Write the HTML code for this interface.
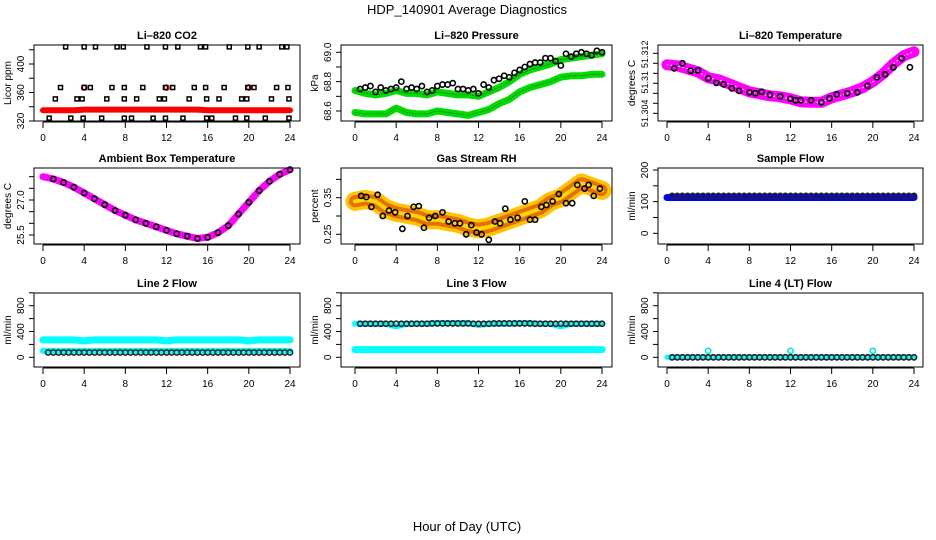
<!DOCTYPE html>
<html><head><meta charset="utf-8"><style>
html,body{margin:0;padding:0;background:#fff;}
svg{display:block;font-family:"Liberation Sans",sans-serif;}
</style></head><body>
<svg id="chart" width="936" height="540" viewBox="0 0 936 540">
<text x="467" y="14" font-size="13" text-anchor="middle">HDP_140901  Average Diagnostics</text>
<text x="467" y="531" font-size="13" text-anchor="middle">Hour of Day (UTC)</text>
</svg>
<script>
const xTickLabels=[0,4,8,12,16,20,24];
const hours=[0,1,2,3,4,5,6,7,8,9,10,11,12,13,14,15,16,17,18,19,20,21,22,23,24];
const halfHours=[0.5,1,1.5,2,2.5,3,3.5,4,4.5,5,5.5,6,6.5,7,7.5,8,8.5,9,9.5,10,10.5,11,11.5,12,12.5,13,13.5,14,14.5,15,15.5,16,16.5,17,17.5,18,18.5,19,19.5,20,20.5,21,21.5,22,22.5,23,23.5,24];
// CO2
const co2RedBand=[335,335,335,335,336,336,336,336,336,336,336,336,336,336,336,336,335,335,335,335,335,335,335,335,335];
const co2RedSpikeHours=[4,12,20];
const co2RedSpikeVals=[367,367,367];
const co2BlackHours=[2.2,4.0,5.1,7.2,7.8,10.1,11.9,13.1,15.3,15.8,18.1,19.9,21.0,23.2,23.7,
1.7,4.0,4.6,6.7,7.9,9.7,11.9,12.6,14.7,15.8,17.6,19.9,20.5,22.7,23.8,
1.2,3.3,3.8,6.2,7.9,9.1,11.3,11.8,14.2,15.9,17.1,19.3,19.8,22.2,23.9,
0.6,2.7,3.9,5.7,7.9,8.6,10.7,11.9,13.6,15.9,16.4,18.7,19.8,21.6,23.9];
const co2BlackVals=[424,424,424,424,424,424,424,424,424,424,424,424,424,424,424,
367,367,367,367,367,367,367,367,367,367,367,367,367,367,367,
351,351,351,351,351,351,351,351,351,351,351,351,351,351,351,
324,324,324,324,324,324,324,324,324,324,324,324,324,324,324];
// Pressure
const presBlack=[68.75,68.76,68.77,68.73,68.76,68.74,68.75,68.76,68.8,68.75,68.76,68.75,68.77,68.73,68.74,68.77,68.78,68.78,68.79,68.75,68.75,68.74,68.75,68.72,68.78,68.76,68.81,68.82,68.84,68.83,68.86,68.88,68.9,68.92,68.93,68.93,68.96,68.96,68.94,68.91,68.99,68.97,68.99,69.0,68.99,68.98,69.01,69.0];
const presGreenUpper=[68.74,68.72,68.71,68.72,68.74,68.72,68.72,68.71,68.73,68.72,68.71,68.71,68.70,68.73,68.76,68.80,68.85,68.88,68.90,68.92,68.95,68.96,68.97,68.98,68.99];
const presGreenLower=[68.59,68.58,68.58,68.58,68.62,68.59,68.58,68.58,68.60,68.59,68.58,68.57,68.59,68.61,68.65,68.68,68.73,68.76,68.78,68.80,68.83,68.84,68.84,68.85,68.85];
// Li-820 temperature
const tempMagenta=[51.3137,51.3135,51.3129,51.3123,51.3111,51.3107,51.3099,51.3091,51.3083,51.3079,51.3075,51.3073,51.3069,51.3063,51.3062,51.3062,51.3071,51.3077,51.3083,51.3091,51.3103,51.3119,51.3139,51.3155,51.3163];
const tempBlackHours=[0.7,1.5,2.3,3,4,4.8,5.5,6.3,7,8,8.6,9.2,10,11,12,12.5,13,14,15,15.8,16.5,17.5,18.5,19.5,20.4,21.2,22,22.8,23.6];
const tempBlackVals=[51.3130,51.3140,51.3125,51.3126,51.3110,51.3101,51.3098,51.3090,51.3085,51.3082,51.3080,51.3083,51.3077,51.3074,51.3069,51.3066,51.3066,51.3066,51.3062,51.3070,51.3078,51.3080,51.3082,51.3095,51.3112,51.3118,51.3132,51.3150,51.3132];
// Ambient box temp
const ambMagenta=[28.0,27.9,27.75,27.55,27.3,27.05,26.8,26.55,26.35,26.15,26.0,25.85,25.7,25.55,25.45,25.35,25.4,25.6,25.9,26.4,26.9,27.4,27.8,28.1,28.3];
// Gas stream RH
const rhBand=[0.34,0.345,0.34,0.32,0.31,0.305,0.30,0.29,0.29,0.285,0.28,0.27,0.265,0.27,0.28,0.29,0.30,0.31,0.32,0.34,0.35,0.37,0.39,0.38,0.37];
const rhBlackHours=[0.6,1.1,1.6,2.2,2.7,3.3,3.9,4.6,5.1,5.7,6.2,6.7,7.2,7.8,8.5,9.1,9.7,10.2,10.8,11.3,11.8,12.3,13.0,13.6,14.1,14.6,15.1,15.8,16.5,17.0,17.5,18.1,18.6,19.2,19.8,20.5,21.1,21.6,22.3,22.7,23.2,23.8];
const rhBlackVals=[0.355,0.352,0.325,0.358,0.30,0.315,0.31,0.265,0.30,0.325,0.327,0.268,0.295,0.30,0.31,0.285,0.28,0.28,0.25,0.275,0.255,0.25,0.235,0.285,0.28,0.32,0.29,0.295,0.34,0.29,0.29,0.325,0.33,0.34,0.36,0.335,0.335,0.385,0.375,0.385,0.355,0.375];
// Flows
const sampleBlue=[113,113,113,113,113,113,113,113,113,113,113,113,113,113,113,113,113,113,113,113,113,113,113,113,113];
const sampleBlack=[118,118,118,118,118,118,118,118,118,118,118,118,118,118,118,118,118,118,118,118,118,118,118,118,118];
const line2CyanHigh=[270,270,270,270,255,270,270,270,270,270,270,270,255,270,270,270,270,270,270,270,255,270,270,270,270];
const line2CyanLow=[100,100,100,100,100,100,100,100,100,100,100,100,100,100,100,100,100,100,100,100,100,100,100,100,100];
const line2Black=[75,75,75,75,75,75,75,75,75,75,75,75,75,75,75,75,75,75,75,75,75,75,75,75,75];
const line3CyanHigh=[520,520,520,520,480,520,520,520,530,530,530,530,500,520,520,520,530,530,520,520,480,520,520,520,520];
const line3CyanLow=[120,120,120,120,120,120,120,120,120,120,120,120,120,120,120,120,120,120,120,120,120,120,120,120,120];
const line3Black=[520,520,520,520,520,520,520,520,525,525,525,525,520,520,525,525,525,525,520,520,520,520,520,520,520];
const line4Cyan=[0,0,0,0,0,0,0,0,0,0,0,0,0,0,0,0,0,0,0,0,0,0,0,0,0];
const line4CyanSpikeHours=[4,12,20];
const line4CyanSpikeVals=[100,100,100];
const line4Black=[0,0,0,0,0,0,0,0,0,0,0,0,0,0,0,0,0,0,0,0,0,0,0,0,0];

const NS="http://www.w3.org/2000/svg";
const svg=document.getElementById('chart');
function mk(tag,attrs,parent){const e=document.createElementNS(NS,tag);for(const k in attrs)e.setAttribute(k,attrs[k]);(parent||svg).appendChild(e);return e;}

function panel(cfg){
  const g=mk('g',{});
  
  
  const [L,T,R,B]=cfg.box;
  const xs=h=>cfg.x0+h*(cfg.x24-cfg.x0)/24;
  const ys=v=>cfg.ya+(v-cfg.va)*(cfg.yb-cfg.ya)/(cfg.vb-cfg.va);
  const t=mk('text',{x:(L+R)/2,y:T-6,'font-size':11,'font-weight':'bold','text-anchor':'middle'},g);
  t.textContent=cfg.title;
  
  
  const plot=mk('g',{},g);
  
  
  cfg.draw(plot,xs,ys);
  const fr=mk('rect',{x:L,y:T,width:R-L,height:B-T,fill:'none',stroke:'#000','stroke-width':1},g);
  
  
  const xa=mk('g',{},g);
  
  
  mk('line',{x1:xs(0),x2:xs(24),y1:B+1,y2:B+1,stroke:'#000'},xa);
  xTickLabels.forEach(v=>{
    mk('line',{x1:xs(v),x2:xs(v),y1:B+1,y2:B+7,stroke:'#000'},xa);
    const tl=mk('text',{x:xs(v),y:B+20,'font-size':10,'text-anchor':'middle'},xa);
    tl.textContent=v;
    
    
  });
  const ya=mk('g',{},g);
  
  
  const yt=cfg.yTicks;
  mk('line',{x1:L,x2:L,y1:ys(yt[0]),y2:ys(yt[yt.length-1]),stroke:'#000'},ya);
  yt.forEach(v=>mk('line',{x1:L-5,x2:L,y1:ys(v),y2:ys(v),stroke:'#000'},ya));
  const fs=cfg.yFont||10;
  cfg.yLabels.forEach((v,i)=>{
    const yy=ys(v);const xx=L-10;
    const tl=mk('text',{x:xx,y:yy,'font-size':fs,'text-anchor':'middle',transform:`rotate(-90 ${xx} ${yy})`},ya);
    tl.textContent=cfg.yLabelText[i];
    
    
  });
  const yx=L-23,yy=(T+B)/2;
  const yl=mk('text',{x:yx,y:yy,'font-size':10,'text-anchor':'middle',transform:`rotate(-90 ${yx} ${yy})`},ya);
  yl.textContent=cfg.ylab;
  
  
}
function band(p,xs,ys,hx,vals,color,w,name,dash){
  const d=vals.map((v,i)=>(i?'L':'M')+xs(hx[i]).toFixed(1)+','+ys(v).toFixed(1)).join(' ');
  const a={d:d,fill:'none',stroke:color,'stroke-width':w,'stroke-linecap':'round','stroke-linejoin':'round'};
  if(dash)a['stroke-dasharray']=dash;
  const e=mk('path',a,p);
  
  
}
function pts(p,xs,ys,hx,vals,color,r,name,sw){
  vals.forEach((v,i)=>{
    const c=mk('circle',{cx:xs(hx[i]),cy:ys(v),r:r,fill:'none',stroke:color,'stroke-width':sw||1.6},p);
    
    
  });
}
function dense(p,xs,ys,hx,vals,color,name){
  for(let i=0;i<hx.length;i++){
    const c=mk('circle',{cx:xs(hx[i]),cy:ys(vals[i]),r:2.6,fill:'none',stroke:color,'stroke-width':1.6},p);
    
    
  }
}
const colL=[34,300,43,290],colM=[341,612,355,602],colR=[658,923,667,914];
const row1=[45,121],row2=[168,244],row3=[293,367];

panel({name:'co2',title:'Li\u2013820 CO2',box:[colL[0],row1[0],colL[1],row1[1]],x0:colL[2],x24:colL[3],va:320,ya:121,vb:400,yb:64,
  yTicks:[320,340,360,380,400,420],yLabels:[320,360,400],yLabelText:['320','360','400'],ylab:'Licor ppm',
  draw:(p,xs,ys)=>{band(p,xs,ys,hours,co2RedBand,'#ff0000',6,'co2-red-series');
    pts(p,xs,ys,co2RedSpikeHours,co2RedSpikeVals,'#ff0000',2.5,'co2-red-point');
    co2BlackVals.forEach((v,i)=>{const r=mk('rect',{x:xs(co2BlackHours[i])-2,y:ys(v)-2,width:4,height:4,fill:'none',stroke:'#000','stroke-width':1.5},p);
      });}});

panel({name:'pressure',title:'Li\u2013820 Pressure',box:[colM[0],row1[0],colM[1],row1[1]],x0:colM[2],x24:colM[3],va:68.6,ya:111,vb:69.0,yb:52.3,
  yTicks:[68.6,68.7,68.8,68.9,69.0],yLabels:[68.6,68.8,69.0],yLabelText:['68.6','68.8','69.0'],ylab:'kPa',
  draw:(p,xs,ys)=>{band(p,xs,ys,hours,presGreenUpper,'#00dd00',7,'pressure-green-upper');
    band(p,xs,ys,hours,presGreenLower,'#00dd00',7,'pressure-green-lower');
    band(p,xs,ys,hours,presGreenUpper,'#007700',1,'pressure-green-upper-dots','1 2');
    band(p,xs,ys,hours,presGreenLower,'#007700',1,'pressure-green-lower-dots','1 2');
    pts(p,xs,ys,halfHours,presBlack,'#000',2.6,'pressure-black-point');}});

panel({name:'li820-temp',title:'Li\u2013820 Temperature',box:[colR[0],row1[0],colR[1],row1[1]],x0:colR[2],x24:colR[3],va:51.304,ya:113.3,vb:51.310,yb:83.3,yFont:9,
  yTicks:[51.304,51.306,51.308,51.310,51.312,51.314,51.316],yLabels:[51.304,51.3102,51.3158],yLabelText:['51.304','51.31','51.312'],ylab:'degrees C',
  draw:(p,xs,ys)=>{band(p,xs,ys,hours,tempMagenta,'#ff00ff',11,'temp-magenta-series');
    band(p,xs,ys,hours,tempMagenta,'#ffffff',1,'temp-magenta-texture','1 3');
    pts(p,xs,ys,tempBlackHours,tempBlackVals,'#000',2.6,'temp-black-point');}});

panel({name:'ambient',title:'Ambient Box Temperature',box:[colL[0],row2[0],colL[1],row2[1]],x0:colL[2],x24:colL[3],va:25.5,ya:235,vb:27.0,yb:200,
  yTicks:[25.5,26.0,26.5,27.0,27.5,28.0],yLabels:[25.5,27.0],yLabelText:['25.5','27.0'],ylab:'degrees C',
  draw:(p,xs,ys)=>{band(p,xs,ys,hours,ambMagenta,'#ff00ff',7,'ambient-magenta-series');
    dense(p,xs,ys,hours.slice(1),ambMagenta.slice(1),'#000','ambient-black-point');}});

panel({name:'rh',title:'Gas Stream RH',box:[colM[0],row2[0],colM[1],row2[1]],x0:colM[2],x24:colM[3],va:0.25,ya:234.3,vb:0.35,yb:197.7,
  yTicks:[0.25,0.30,0.35,0.40],yLabels:[0.25,0.35],yLabelText:['0.25','0.35'],ylab:'percent',
  draw:(p,xs,ys)=>{band(p,xs,ys,hours,rhBand,'#ffc400',19,'rh-orange-series');
    band(p,xs,ys,hours,rhBand,'#e87000',12,'rh-red-dots','1.5 2');
    band(p,xs,ys,hours,rhBand,'#ffd800',4,'rh-yellow-core','2 2');
    pts(p,xs,ys,rhBlackHours,rhBlackVals,'#000',2.6,'rh-black-point');}});

panel({name:'sample-flow',title:'Sample Flow',box:[colR[0],row2[0],colR[1],row2[1]],x0:colR[2],x24:colR[3],va:0,ya:233.3,vb:200,yb:170,
  yTicks:[0,50,100,150,200],yLabels:[0,100,200],yLabelText:['0','100','200'],ylab:'ml/min',
  draw:(p,xs,ys)=>{band(p,xs,ys,hours,sampleBlue,'#0000ff',7,'sample-blue-series');
    dense(p,xs,ys,halfHours,halfHours.map((h,i)=>sampleBlack[Math.round(h)]),'#222','sample-black-point');}});

const flowTicks=[0,200,400,600,800,1000];
panel({name:'line2-flow',title:'Line 2 Flow',box:[colL[0],row3[0],colL[1],row3[1]],x0:colL[2],x24:colL[3],va:0,ya:357.3,vb:800,yb:305.7,
  yTicks:flowTicks,yLabels:[0,400,800],yLabelText:['0','400','800'],ylab:'ml/min',
  draw:(p,xs,ys)=>{band(p,xs,ys,hours,line2CyanHigh,'#00ffff',7,'line2-cyan-high');
    band(p,xs,ys,hours,line2CyanLow,'#00ffff',6,'line2-cyan-low');
    dense(p,xs,ys,halfHours,halfHours.map(h=>line2Black[Math.round(h)]),'#222','line2-black-point');}});

panel({name:'line3-flow',title:'Line 3 Flow',box:[colM[0],row3[0],colM[1],row3[1]],x0:colM[2],x24:colM[3],va:0,ya:357.3,vb:800,yb:305.7,
  yTicks:flowTicks,yLabels:[0,400,800],yLabelText:['0','400','800'],ylab:'ml/min',
  draw:(p,xs,ys)=>{band(p,xs,ys,hours,line3CyanHigh,'#00ffff',6,'line3-cyan-high');
    band(p,xs,ys,hours,line3CyanLow,'#00ffff',7,'line3-cyan-low');
    dense(p,xs,ys,halfHours,halfHours.map(h=>line3Black[Math.round(h)]),'#222','line3-black-point');}});

panel({name:'line4-flow',title:'Line 4 (LT) Flow',box:[colR[0],row3[0],colR[1],row3[1]],x0:colR[2],x24:colR[3],va:0,ya:357.3,vb:800,yb:305.7,
  yTicks:flowTicks,yLabels:[0,400,800],yLabelText:['0','400','800'],ylab:'ml/min',
  draw:(p,xs,ys)=>{band(p,xs,ys,hours,line4Cyan,'#00ffff',5,'line4-cyan-series');
    pts(p,xs,ys,line4CyanSpikeHours,line4CyanSpikeVals,'#00e5e5',2.6,'line4-cyan-spike');
    dense(p,xs,ys,halfHours,halfHours.map(h=>line4Black[Math.round(h)]),'#222','line4-black-point');}});
</script>
</body></html>
